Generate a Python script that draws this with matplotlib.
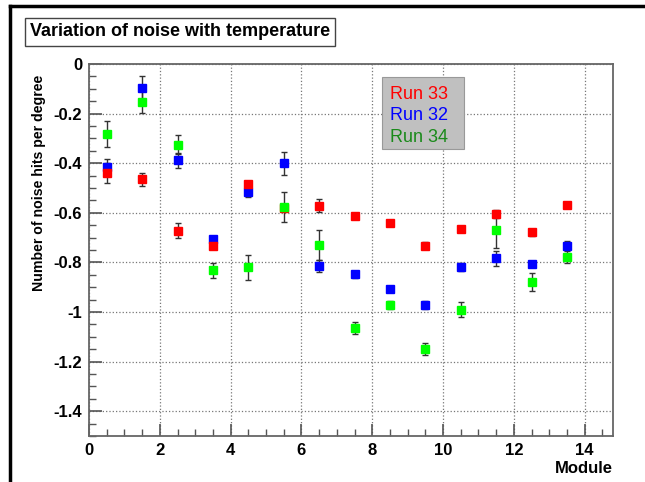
import matplotlib
matplotlib.use("Agg")
import matplotlib.pyplot as plt
from matplotlib.lines import Line2D
from matplotlib.patches import Rectangle
from matplotlib.ticker import MultipleLocator

plt.rcParams['font.family'] = ['Liberation Sans', 'DejaVu Sans']

modules = [0.5, 1.5, 2.5, 3.5, 4.5, 5.5, 6.5, 7.5, 8.5, 9.5, 10.5, 11.5, 12.5, 13.5]

run33 = [-0.44, -0.465, -0.672, -0.732, -0.485, -0.58, -0.571, -0.612, -0.641, -0.732, -0.665, -0.605, -0.679, -0.567]
run33_err = [0.04, 0.025, 0.03, 0.01, 0.01, 0.01, 0.025, 0.01, 0.01, 0.015, 0.01, 0.015, 0.015, 0.01]

run32 = [-0.415, -0.097, -0.388, -0.704, -0.517, -0.401, -0.815, -0.848, -0.909, -0.972, -0.819, -0.783, -0.805, -0.735]
run32_err = [0.03, 0.05, 0.03, 0.01, 0.02, 0.045, 0.025, 0.015, 0.01, 0.015, 0.015, 0.03, 0.01, 0.02]

run34 = [-0.281, -0.152, -0.325, -0.831, -0.819, -0.578, -0.731, -1.064, -0.971, -1.148, -0.991, -0.668, -0.879, -0.777]
run34_err = [0.053, 0.045, 0.038, 0.03, 0.05, 0.06, 0.06, 0.025, 0.015, 0.025, 0.03, 0.075, 0.035, 0.025]

series = [
    ("Run 32", run32, run32_err, "#0000ff", "#0000ff"),
    ("Run 33", run33, run33_err, "#ff0000", "#ff0000"),
    ("Run 34", run34, run34_err, "#00ff00", "#1a8a1a"),
]

fig = plt.figure(figsize=(6.45, 4.82), dpi=100)
ax = fig.add_axes([89/645, 46/482, 524/645, 372/482])

for name, vals, errs, col, txtcol in series:
    ax.errorbar(modules, vals, yerr=errs, fmt='s', color=col, ms=6,
                ecolor='#333333', elinewidth=1, capsize=2, capthick=1, zorder=3)

ax.set_xlim(0, 14.8)
ax.set_ylim(-1.5, 0)
ax.xaxis.set_major_locator(MultipleLocator(2))
ax.xaxis.set_minor_locator(MultipleLocator(0.5))
ax.yaxis.set_major_locator(MultipleLocator(0.2))
ax.yaxis.set_minor_locator(MultipleLocator(0.05))
ax.yaxis.set_major_formatter(plt.FuncFormatter(lambda v, p: "0" if abs(v) < 1e-9 else ("%g" % round(v, 2))))
ax.tick_params(which='both', direction='in', top=False, right=False, color='#555555')
ax.tick_params(which='major', length=9, width=1.2, labelsize=12, pad=5)
ax.tick_params(which='minor', length=5, width=1)
for lab in ax.get_xticklabels() + ax.get_yticklabels():
    lab.set_fontweight('bold')
ax.grid(True, which='major', linestyle=':', color='#777777', linewidth=0.9)
for s in ax.spines.values():
    s.set_color('#666666')
    s.set_linewidth(1.3)

ax.set_xlabel("Module", fontsize=12, fontweight='bold', loc='right', labelpad=2)
ax.set_ylabel("Number of noise hits per degree", fontsize=10.2, fontweight='bold', loc='top')
ax.yaxis.set_label_coords(-0.082, 0.97)

# legend box
ax.add_patch(Rectangle((0.559, 0.772), 0.157, 0.193, transform=ax.transAxes,
                       facecolor='#c0c0c0', edgecolor='#999999', lw=0.8, zorder=4))
legend_order = [series[1], series[0], series[2]]
for i, (name, vals, errs, col, txtcol) in enumerate(legend_order):
    ax.text(0.574, 0.919 - i * 0.058, name, transform=ax.transAxes, color=txtcol,
            fontsize=13, va='center', ha='left', zorder=5)

# title box
fig.text(180/645, 1 - 32/482, "Variation of noise with temperature", fontsize=13,
         fontweight='bold', ha='center', va='center',
         bbox=dict(boxstyle='square,pad=0.3', facecolor='white', edgecolor='#444444', lw=1))

# canvas border (left and top)
fig.add_artist(Line2D([10/645, 10/645], [0, 1 - 6/482], color='black', lw=2.5))
fig.add_artist(Line2D([10/645, 1], [1 - 6/482, 1 - 6/482], color='black', lw=2.5))

fig.savefig("out.png", dpi=100)
